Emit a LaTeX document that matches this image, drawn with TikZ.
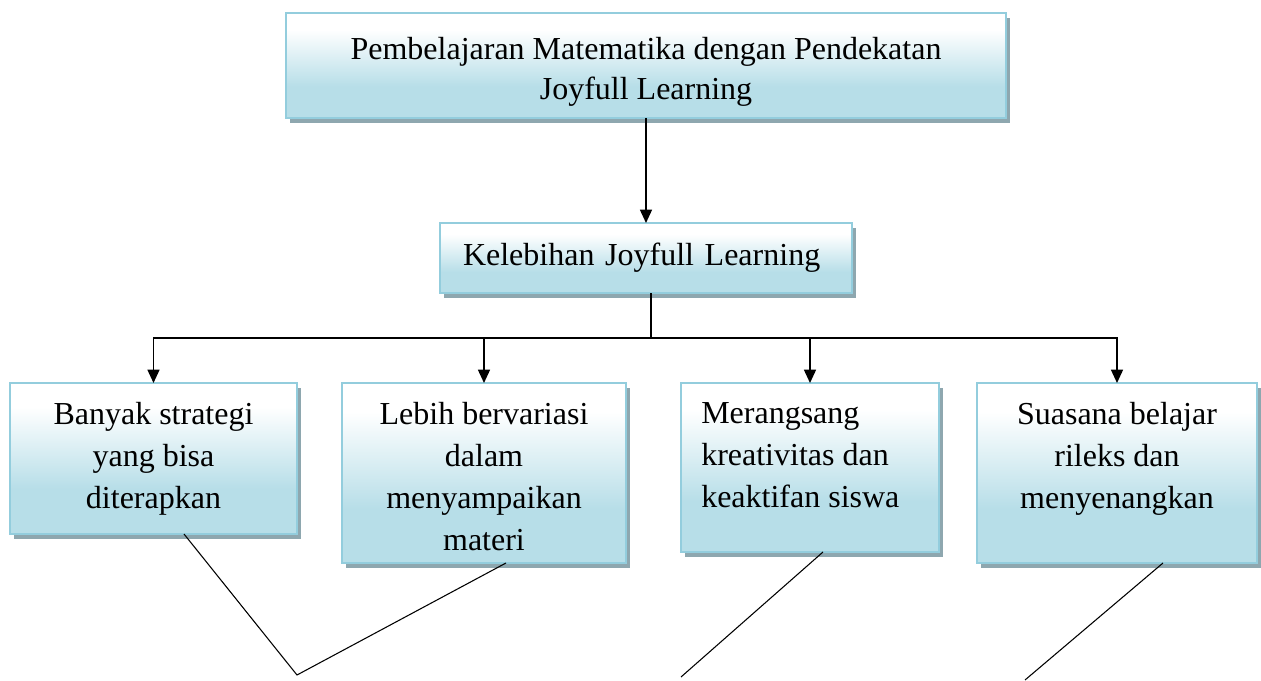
\documentclass[tikz,border=0pt]{standalone}
\usepackage{fontspec}
\setmainfont{Liberation Serif}
\usetikzlibrary{arrows.meta,calc,positioning,shadows}
\definecolor{boxline}{HTML}{93CDDD}
\definecolor{boxfill}{HTML}{B7DEE8}
\definecolor{boxshadow}{HTML}{8EA7AF}
\pgfdeclareverticalshading{boxshade}{100bp}{%
  color(0bp)=(boxfill); color(40bp)=(boxfill);
  color(67bp)=(white); color(100bp)=(white)}
\tikzset{
  box/.style={
    draw=boxline,
    line width=1pt,
    shade,
    shading=boxshade,
    drop shadow={shadow xshift=3pt, shadow yshift=-3.5pt,
      fill=boxshadow, opacity=1},
    inner sep=0pt,
    outer sep=0pt,
    text=black,
    font=\fontsize{24}{30}\selectfont
  },
  boxtext/.style={
    inner sep=0pt,
    align=center,
    text=black,
    font=\fontsize{24}{31.5}\selectfont
  },
  arrowline/.style={
    line width=1.1pt,
    -{Triangle[length=10pt,width=9pt]}
  },
  link/.style={
    line width=0.8pt
  }
}
\newcommand{\benefitbox}[6]{%
  \node[box,
    minimum width={(#3-#2)*0.75pt},
    minimum height={(#4-383)*0.75pt}]
    (#1) at ({(#2+#3)/2},{(383+#4)/2}) {};
  \node[boxtext, #5] (#1t) at ($(#1.north)+(0,19)$) {#6};
}

\begin{document}
\begin{tikzpicture}[x=0.75pt,y=-0.75pt]

  \useasboundingbox (0,0) rectangle (1261,681);

  % --- Title and advantages ---
  \node[box, minimum width=540pt, minimum height=78.75pt]
    (title) at (646,65.5) {};
  \node[boxtext, font=\fontsize{24}{30}\selectfont]
    (titlet) at ($(title.center)+(0,6)$)
    {Pembelajaran Matematika dengan Pendekatan\\Joyfull Learning};
  \node[box, minimum width=309pt, minimum height=52.5pt,
    text width=274.5pt, align=left]
    (kelebihan) at (646,258) {Kelebihan Joyfull Learning};

  % --- Four advantages ---
  \benefitbox{b1}{10}{297}{534}{anchor=north}{%
    Banyak strategi\\yang bisa\\diterapkan}
  \benefitbox{b2}{342}{626}{563}{anchor=north}{%
    Lebih bervariasi\\dalam\\menyampaikan\\materi}
  \benefitbox{b3}{681}{939}{552}{anchor=north west, align=left,
    xshift=-81.75pt}{%
    Merangsang\\kreativitas dan\\keaktifan siswa}
  \benefitbox{b4}{977}{1257}{563}{anchor=north}{%
    Suasana belajar\\rileks dan\\menyenangkan}

  % --- Arrows ---
  \coordinate (split) at (651,338);
  \draw[arrowline] (title.south) -- (kelebihan.north);
  \draw[line width=1.1pt] (kelebihan.south -| split) -- (split);
  \draw[arrowline] (split) -| (b1.north);
  \draw[arrowline] (split) -| (b2.north);
  \draw[arrowline] (split) -| (b3.north);
  \draw[arrowline] (split) -| (b4.north);

  % --- Lines below the boxes ---
  \coordinate (v1) at (297,675);
  \coordinate (e3) at (681,677);
  \coordinate (e4) at (1025,680);
  \draw[link] ($(b1.south west)+(174,0)$) -- (v1)
    -- ($(b2.south west)+(164,0)$);
  \draw[link] ($(b3.south west)+(142,0)$) -- (e3);
  \draw[link] ($(b4.south west)+(186,0)$) -- (e4);

\end{tikzpicture}
\end{document}
